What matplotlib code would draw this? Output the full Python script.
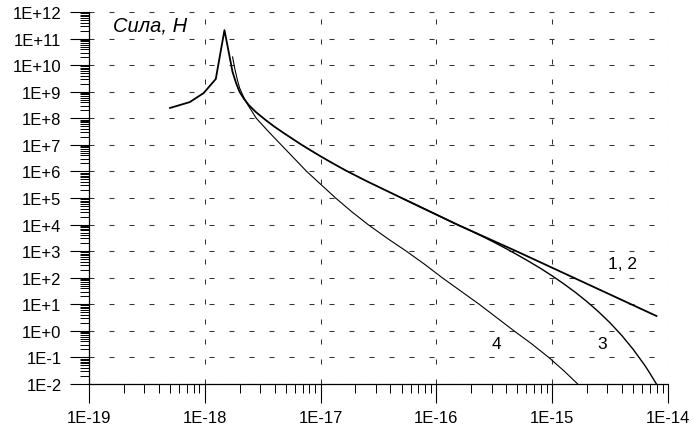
import numpy as np
import matplotlib
matplotlib.use("Agg")
import matplotlib.pyplot as plt
from matplotlib.ticker import FixedLocator, FuncFormatter

plt.rcParams['font.family'] = ['Liberation Sans', 'DejaVu Sans']

# values, stored as log10 (distance, m / force, N)
# curves 1, 2 (coincide)
lgx12 = [-18.30, -18.13, -18.01, -17.905, -17.83, -17.76, -17.73, -17.70, -17.66, -17.62,
         -17.56, -17.47, -17.40, -17.32, -17.25, -17.17, -17.08, -17.00, -16.90, -16.78,
         -16.60, -16.30, -15.82, -15.31, -14.10]
lgf12 = [8.39, 8.61, 8.95, 9.48, 11.32, 9.74, 9.33, 9.00, 8.72, 8.50,
         8.24, 7.92, 7.69, 7.45, 7.25, 7.02, 6.78, 6.57, 6.32, 6.03,
         5.63, 5.00, 4.00, 3.00, 0.56]

# curve 3 (leaves 1, 2 at large distances)
lgx3 = [-16.30, -15.82, -15.70, -15.60, -15.50, -15.40, -15.30, -15.20, -15.10, -15.00,
        -14.90, -14.80, -14.70, -14.60, -14.50, -14.40, -14.30, -14.20, -14.15, -14.10]
lgf3 = [5.00, 4.00, 3.76, 3.55, 3.33, 3.10, 2.86, 2.61, 2.35, 2.07,
        1.77, 1.45, 1.10, 0.72, 0.30, -0.17, -0.70, -1.30, -1.64, -2.00]

# curve 4
lgx4 = [-17.76, -17.74, -17.72, -17.70, -17.67, -17.63, -17.555, -17.45, -17.34, -17.23,
        -17.12, -17.00, -16.87, -16.73, -16.59, -16.42, -16.26, -16.10, -15.95, -15.79,
        -15.63, -15.48, -15.33, -15.18, -15.03, -14.90, -14.78]
lgf4 = [10.31, 9.85, 9.47, 9.15, 8.85, 8.52, 8.00, 7.50, 7.00, 6.50,
        6.00, 5.52, 5.00, 4.48, 4.00, 3.47, 3.00, 2.50, 2.00, 1.50,
        1.00, 0.50, 0.00, -0.48, -1.00, -1.50, -2.00]

curve_labels = ["1, 2", "3", "4"]
label_pos = [(4.07e-15, 355.0), (2.7e-15, 0.32), (3.3e-16, 0.32)]

x_decades = list(range(-19, -13))
y_decades = list(range(-2, 13))


def to_lin(v):
    return np.power(10.0, np.asarray(v))


fig = plt.figure(figsize=(6.93, 4.35), dpi=100)
ax = fig.add_axes([0.1284, 0.115, 0.8355, 0.855])

ax.plot(to_lin(lgx12), to_lin(lgf12), color='black', lw=1.3)
ax.plot(to_lin(lgx3), to_lin(lgf3), color='black', lw=1.0)
ax.plot(to_lin(lgx4), to_lin(lgf4), color='black', lw=0.8)

ax.set_xscale('log')
ax.set_yscale('log')
ax.set_xlim(1e-19, 1e-14)
ax.set_ylim(1e-2, 1e12)

x_major = [10.0 ** d for d in x_decades]
y_major = [10.0 ** d for d in y_decades]
x_minor = [s * 10.0 ** d for d in x_decades[:-1] for s in range(2, 10)]
y_minor = [s * 10.0 ** d for d in y_decades[:-1] for s in range(2, 10)]
ax.xaxis.set_major_locator(FixedLocator(x_major))
ax.yaxis.set_major_locator(FixedLocator(y_major))
ax.xaxis.set_minor_locator(FixedLocator(x_minor))
ax.yaxis.set_minor_locator(FixedLocator(y_minor))
fmt = FuncFormatter(lambda v, p: "1E%+d" % int(round(np.log10(v))))
ax.xaxis.set_major_formatter(fmt)
ax.yaxis.set_major_formatter(fmt)
ax.xaxis.set_minor_formatter(FuncFormatter(lambda v, p: ""))
ax.yaxis.set_minor_formatter(FuncFormatter(lambda v, p: ""))

ax.tick_params(which='major', length=13.7, width=0.8, labelsize=12, direction='out')
ax.tick_params(which='minor', length=6.5, width=0.7, direction='out')
ax.tick_params(axis='x', which='major', pad=5)
ax.tick_params(axis='y', which='major', pad=6)

for s in ('top', 'right'):
    ax.spines[s].set_visible(False)
for s in ('left', 'bottom'):
    ax.spines[s].set_linewidth(0.9)

ax.grid(True, which='major', color='#333333', lw=0.75, linestyle=(0, (4.8, 14.4)))

ax.text(0.0415, 0.965, "Сила, Н", transform=ax.transAxes, fontsize=14.5,
        style='italic', ha='left', va='center')

for lab, (px, py) in zip(curve_labels, label_pos):
    ax.text(px, py, lab, fontsize=12.5, ha='center', va='center')

fig.savefig("out.png", dpi=100)
